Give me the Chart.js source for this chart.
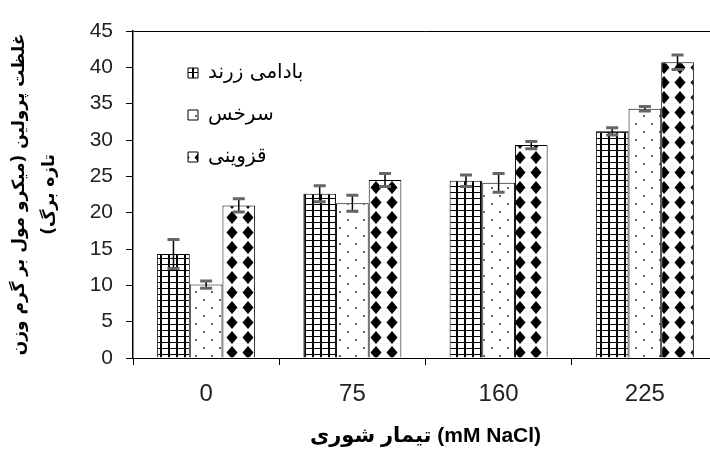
<!DOCTYPE html>
<html><head><meta charset="utf-8">
<script src="https://cdn.jsdelivr.net/npm/chart.js@4.4.0/dist/chart.umd.min.js"></script>
<style>
html,body{margin:0;padding:0;background:#fff;overflow:hidden}
#wrap{width:710px;height:455px;overflow:hidden;position:relative;background:#fff}
canvas{display:block}
</style></head><body>
<div id="wrap"><canvas id="c" width="720" height="455"></canvas></div>
<script>
// ---- data ----
const categories = ['0', '75', '160', '225'];
const seriesNames = ['بادامی زرند', 'سرخس', 'قزوینی'];
const badamiZarand = [14.3, 22.6, 24.4, 31.2];
const sarakhs = [10.1, 21.3, 24.1, 34.3];
const ghazvini = [21.0, 24.5, 29.3, 40.7];
const badamiZarandErr = [2.0, 1.1, 0.8, 0.5];
const sarakhsErr = [0.5, 1.1, 1.3, 0.3];
const ghazviniErr = [0.9, 0.9, 0.5, 1.0];
const yTickValues = [0, 5, 10, 15, 20, 25, 30, 35, 40, 45];
const xTitle = 'تیمار شوری (mM NaCl)';
const yTitle = ['غلظت پرولین (میکرو مول بر گرم وزن', 'تازه برگ)\u200F'];

const FONT = "'Liberation Sans', 'DejaVu Sans', Arial, sans-serif";
const PFONT = "'DejaVu Sans', 'Liberation Sans', sans-serif";

function makePattern(kind) {
  const c = document.createElement('canvas');
  const g = c.getContext('2d');
  if (kind === 'grid') {
    c.width = 8; c.height = 6;
    g.fillStyle = '#fff'; g.fillRect(0, 0, 8, 6);
    g.fillStyle = '#000';
    g.fillRect(0, 0, 2, 6);
    g.fillRect(0, 0, 8, 1);
  } else if (kind === 'dots') {
    c.width = 16; c.height = 16;
    g.fillStyle = '#fff'; g.fillRect(0, 0, 16, 16);
    g.fillStyle = '#666';
    g.fillRect(3, 3, 2, 2);
    g.fillRect(11, 11, 2, 2);
  } else {
    c.width = 16; c.height = 15;
    g.fillStyle = '#fff'; g.fillRect(0, 0, 16, 15);
    g.fillStyle = '#000';
    g.beginPath();
    g.moveTo(8, 1); g.lineTo(13.5, 7.5); g.lineTo(8, 14); g.lineTo(2.5, 7.5); g.closePath();
    g.fill();
  }
  return g.createPattern(c, 'repeat');
}

const errorBars = {
  id: 'errorBars',
  afterDatasetsDraw(chart) {
    const ctx = chart.ctx;
    const ys = chart.scales.y;
    chart.data.datasets.forEach((ds, i) => {
      const meta = chart.getDatasetMeta(i);
      meta.data.forEach((el, j) => {
        const v = ds.data[j], e = ds.errors[j];
        const yT = ys.getPixelForValue(v + e), yB = ys.getPixelForValue(v - e);
        ctx.save();
        ctx.strokeStyle = '#000'; ctx.lineWidth = 1.5;
        ctx.beginPath(); ctx.moveTo(el.x, yT); ctx.lineTo(el.x, yB); ctx.stroke();
        ctx.strokeStyle = '#666'; ctx.lineWidth = 3;
        ctx.beginPath();
        ctx.moveTo(el.x - 6, yT); ctx.lineTo(el.x + 6, yT);
        ctx.moveTo(el.x - 6, yB); ctx.lineTo(el.x + 6, yB);
        ctx.stroke();
        ctx.restore();
      });
    });
  }
};

const placeLegend = {
  id: 'placeLegend',
  afterLayout(chart) {
    const lg = chart.legend;
    if (!lg) return;
    lg.left = 166; lg.top = 41;
    lg.right = lg.left + lg.width;
    lg.bottom = 358;
  }
};

const ctx = document.getElementById('c').getContext('2d');
new Chart(ctx, {
  type: 'bar',
  data: {
    labels: categories,
    datasets: [
      { label: seriesNames[0], data: badamiZarand, errors: badamiZarandErr, backgroundColor: makePattern('grid'), borderColor: '#000', borderWidth: 1 },
      { label: seriesNames[1], data: sarakhs, errors: sarakhsErr, backgroundColor: makePattern('dots'), borderColor: '#000', borderWidth: 1 },
      { label: seriesNames[2], data: ghazvini, errors: ghazviniErr, backgroundColor: makePattern('diamond'), borderColor: '#000', borderWidth: 1 }
    ]
  },
  options: {
    responsive: false,
    animation: false,
    devicePixelRatio: 1,
    datasets: { bar: { barPercentage: 1, categoryPercentage: 0.67 } },
    layout: { padding: { top: 31, right: 2, left: 0, bottom: 0 } },
    plugins: {
      legend: {
        position: 'chartArea', align: 'start',
        labels: { boxWidth: 10, boxHeight: 10, padding: 22, color: '#000', font: { family: PFONT, size: 20 } }
      },
      tooltip: { enabled: false }
    },
    scales: {
      x: {
        grid: { offset: true, drawOnChartArea: false, tickLength: 7, color: '#000' },
        border: { color: '#000', width: 1 },
        ticks: { padding: 15, color: '#222', font: { family: FONT, size: 24 } },
        title: { display: true, text: xTitle, color: '#000', font: { family: FONT, size: 21, weight: 'bold' }, padding: { top: 0, bottom: 6 } },
        afterFit(s) { s.height = 97; }
      },
      y: {
        min: 0, max: 45,
        afterBuildTicks(s) { s.ticks = yTickValues.map(v => ({ value: v })); },
        grid: { color: c => (c.tick && c.tick.value === 45) ? '#000' : 'rgba(0,0,0,0)', tickColor: '#000', tickLength: 7 },
        border: { color: '#000', width: 1.5 },
        ticks: { padding: 13, color: '#222', font: { family: FONT, size: 21 } },
        title: { display: true, text: yTitle, color: '#000', font: { family: PFONT, size: 17, weight: 'bold', lineHeight: '30px' }, padding: { top: 5, bottom: 0 } },
        afterFit(s) { s.width = 133; }
      }
    }
  },
  plugins: [errorBars, placeLegend]
});
</script>
</body></html>
